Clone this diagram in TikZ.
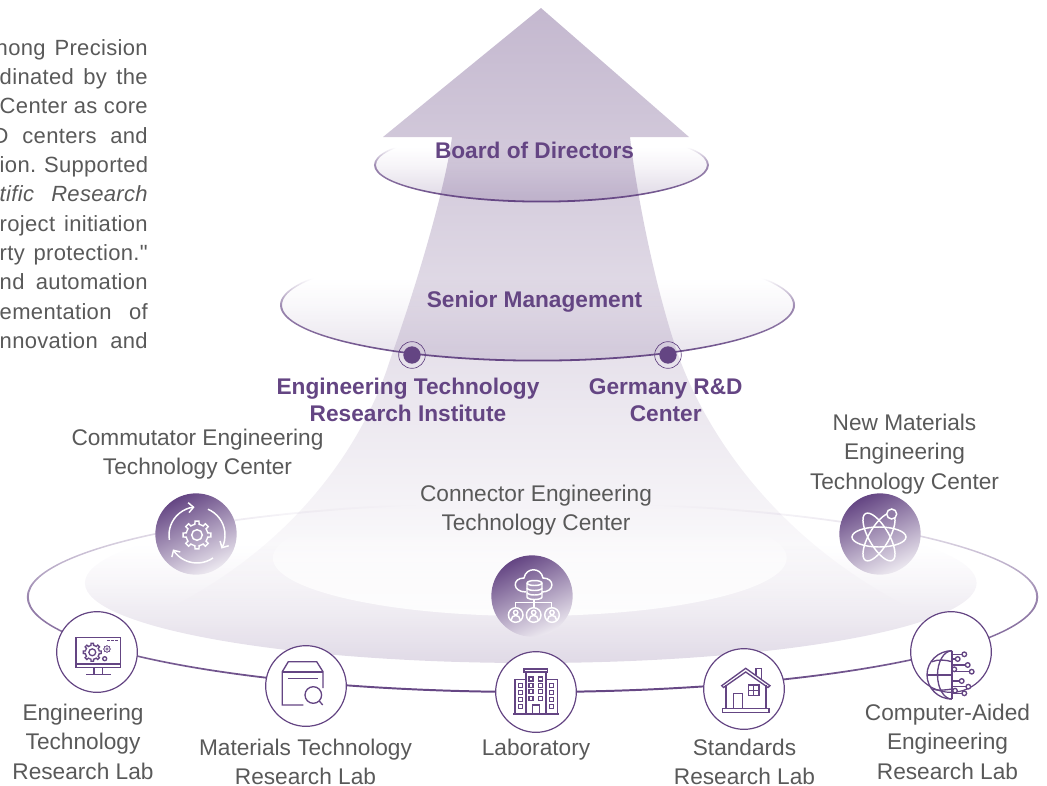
\documentclass[tikz,border=0pt]{standalone}
\usepackage{fontspec}
\setmainfont{Liberation Sans}
\newfontfamily\bodyfont{Liberation Sans}[LetterSpace=1.5]
\usetikzlibrary{arrows.meta,fadings}
\definecolor{mainpurple}{HTML}{644583}
\definecolor{textgrey}{HTML}{595959}
\definecolor{arrowtop}{HTML}{C4B8CF}
\definecolor{arrowmid}{HTML}{D8D0E0}
\pgfdeclareverticalshading{ringshade}{100bp}{color(0bp)=(white);color(25bp)=(white);color(50bp)=(black!40);color(62bp)=(black);color(100bp)=(black)}
\pgfdeclareverticalshading{bigringshade}{100bp}{color(0bp)=(white);color(25bp)=(white);color(50bp)=(black!35);color(74bp)=(black);color(100bp)=(black)}
\pgfdeclareverticalshading{bowlshade}{100bp}{color(0bp)=(white);color(25bp)=(white);color(50bp)=(black!75);color(62bp)=(black);color(100bp)=(black)}
\pgfdeclarefading{ringfade}{\pgfuseshading{ringshade}}
\pgfdeclarefading{bigringfade}{\pgfuseshading{bigringshade}}
\pgfdeclarefading{bowlfade}{\pgfuseshading{bowlshade}}
\tikzset{
  greylabel/.style={align=center,text=textgrey,inner sep=0pt,font=\fontsize{17}{22.1}\selectfont},
  purplelabel/.style={align=center,text=mainpurple,inner sep=0pt,font=\fontsize{17}{20}\selectfont\bfseries},
  bodyline/.style={anchor=east,text=textgrey,inner sep=0pt,text height=12pt,text depth=3.5pt,font=\fontsize{16.5}{20}\bodyfont},
  ring/.style={fill=mainpurple,even odd rule,path fading=ringfade},
  bigring/.style={fill=mainpurple,even odd rule,path fading=bigringfade},
  bowl/.style={fill=mainpurple,path fading=bowlfade,fill opacity=#1},
  darkdisc/.style={circle,minimum size=61pt,inner sep=0pt,shade,shading=axis,top color=mainpurple,bottom color=mainpurple!12,shading angle=25},
  whitedisc/.style={circle,minimum size=60.5pt,inner sep=0pt,draw=mainpurple,fill=white,line width=0.9pt},
  iconw/.style={draw=white,line width=1.1pt},
  iconp/.style={draw=mainpurple,line width=1pt},
}
\newcommand{\gearat}[4]{% x, y, radius, style
  \foreach \a in {0,45,...,315}
    \draw[#4,shift={(#1,#2)}] (\a-22.5:#3*0.78) -- (\a-11:#3*0.78) -- (\a-8:#3) -- (\a+8:#3) -- (\a+11:#3*0.78) -- (\a+22.5:#3*0.78);
  \draw[#4] (#1,#2) circle (#3*0.38);
}
\begin{document}
\begin{tikzpicture}[x=0.75pt,y=-0.75pt]
\useasboundingbox (0,0) rectangle (1047,786);
% arrow
\shade[top color=arrowtop,middle color=arrowmid,bottom color=white] (541,8) -- (689,137) -- (630,137)
  .. controls (636,190) and (655,290) .. (680,360)
  .. controls (710,440) and (780,540) .. (905,605)
  -- (175,605)
  .. controls (300,540) and (365,440) .. (390,360)
  .. controls (415,290) and (445,190) .. (452,137)
  -- (383,137) -- cycle;
% base
\fill[bowl=0.2] (531,583) ellipse (446 and 80);
\fill[white,path fading=ringfade,fill opacity=0.95] (530,558) ellipse (257 and 58);
\fill[bowl=0.22] (541.5,165) ellipse (167 and 37);
\fill[bowl=0.16] (537.5,305) ellipse (257 and 56);
\fill[ring] (541.5,165) ellipse (167.5 and 37.5) (541.5,165) ellipse (165.5 and 35.7);
\fill[ring] (537.5,305) ellipse (257.5 and 56.5) (537.5,305) ellipse (255.5 and 54.7);
\fill[bigring] (534,597) ellipse (506.5 and 96) (534,597) ellipse (504.5 and 94);
% two dots on the second level
\foreach \x/\n in {412/engdot,668/gerdot}{
  \node[circle,fill=mainpurple,minimum size=13pt,inner sep=0pt] (\n) at (\x,355) {};
  \node[circle,draw=mainpurple,line width=0.5pt,fill=none,minimum size=20pt,inner sep=0pt] (\n ring) at (\x,355) {};
}
% discs
\node[darkdisc] (commdisc) at (196,534) {};
\node[darkdisc] (conndisc) at (532,596) {};
\node[darkdisc] (matdisc) at (880,534) {};
\node[whitedisc] (englab) at (97,652) {};
\node[whitedisc] (matlab) at (306,686) {};
\node[whitedisc] (lab) at (536,692) {};
\node[whitedisc] (stdlab) at (744,689) {};
\node[whitedisc] (caelab) at (951,652) {};
% commutator icon
\gearat{197}{535}{14}{iconw}
\draw[iconw,-{Straight Barb}] (197,535) ++(170:28) arc (170:265:28);
\draw[iconw,-{Straight Barb}] (197,535) ++(-67:28) arc (-67:29:28);
\draw[iconw,-{Straight Barb}] (197,535) ++(55:28) arc (55:149:28);
% connector icon
\draw[iconw] (526,592) .. controls (512,592) and (512,578) .. (524,578) .. controls (526,567) and (541,567) .. (543,578) .. controls (555,578) and (555,592) .. (542,592);
\draw[iconw,fill=mainpurple!55] (527,583) -- (527,597) arc (180:0:7.5 and 2.5) -- (542,583) arc (0:-180:7.5 and 2.5);
\draw[iconw] (527,583) arc (180:0:7.5 and 2.5);
\draw[iconw] (527,588) arc (180:0:7.5 and 2.5) (527,592.5) arc (180:0:7.5 and 2.5);
\draw[iconw] (534,600) -- (534,607) (515.7,608) -- (515.7,602.7) -- (551.7,602.7) -- (551.7,608);
\foreach \x in {515.7,533.7,552}{
  \draw[iconw] (\x,615) circle (7.3) (\x,612.5) circle (2.2);
  \draw[iconw] (\x-4.5,620) .. controls (\x-4.5,614) and (\x+4.5,614) .. (\x+4.5,620);
}
% new materials icon
\foreach \r in {0,60,120}
  \draw[iconw,rotate around={\r:(879,537)}] (879,537) ellipse (27 and 10);
\draw[iconw,fill=mainpurple!70] (891.7,514) circle (5);
% monitor icon
\draw[iconp] (76,637.3) rectangle (120.7,667.3) (76,664) -- (120.7,664);
\draw[iconp] (94,667.3) -- (94,674) (102.7,667.3) -- (102.7,674) (86,674.5) -- (110.7,674.5);
\draw[iconp,dash pattern=on 2pt off 1pt] (107,640.7) -- (118,640.7);
\gearat{92.3}{652.3}{9}{iconp}
\gearat{107}{649}{3.5}{draw=mainpurple,line width=0.4pt}
\draw[iconp] (104.7,658.7) circle (2);
% box icon
\draw[iconp] (303.3,705) -- (282.3,705) -- (282.3,671.7) -- (288.3,661.7) -- (316.7,661.7) -- (323,671.7) -- (323,688);
\draw[iconp,line width=1.4pt] (281.7,671.7) -- (323.3,671.7);
\draw[iconp] (288,678.3) -- (318,678.3);
\draw[iconp] (313.3,695) circle (8.3) (319.2,700.9) -- (322.7,705);
% laboratory icon
\draw[iconp] (526,714) -- (526,671.7) -- (546,671.7) -- (546,714);
\draw[iconp] (524,669) rectangle (547.7,672.7);
\draw[iconp] (526,679.3) -- (515,679.3) -- (515,714) (546,679.3) -- (557.3,679.3) -- (557.3,714);
\draw[iconp,line width=1.4pt] (513.3,714) -- (558.7,714);
\draw[iconp] (532.7,714) -- (532.7,705) -- (539.3,705) -- (539.3,714);
\foreach \y in {679,685.7,691.7,698.3}
  \foreach \x in {531,540.3}
    \draw[iconp] (\x-2,\y-2) rectangle (\x+2,\y+2);
\foreach \y in {685.3,692.3,699.3,706.3}
  \foreach \x in {520.3,551.7}
    \draw[iconp] (\x-2,\y-2) rectangle (\x+2,\y+2);
% house icon
\draw[iconp] (721.7,685.7) -- (745.7,668.3) -- (770,685.7) -- (768,687.5) -- (745.7,672) -- (723.5,687.5) -- cycle;
\draw[iconp] (726,685) -- (726,708.3) (766,685) -- (766,708.3);
\draw[iconp] (722.3,708.3) rectangle (769,712.3);
\draw[iconp] (733.3,708.3) -- (733.3,693.3) -- (742.3,693.3) -- (742.3,708.3);
\draw[iconp] (748.3,685) rectangle (759,695.7) (753.6,685) -- (753.6,695.7) (748.3,690.3) -- (759,690.3);
\draw[iconp] (756,675) -- (756,668.3) -- (761.7,668.3) -- (761.7,679);
% globe icon
\draw[iconp] (952,650.7) arc (-90:-270:25 and 24.2);
\draw[iconp] (952,650.7) arc (-90:-270:14.5 and 24.2);
\draw[iconp] (952,650.7) -- (952,699);
\draw[iconp] (932,661.7) .. controls (938,659) and (946,660) .. (952,661.7);
\draw[iconp] (927,675) -- (952,675);
\draw[iconp] (932,689) .. controls (938,691) and (946,690) .. (952,689);
\foreach \x/\y in {964.3/654.3,957.7/659,967.7/665,954.3/669.3,971.7/671.7,961.7/681,968.3/686.7,955/690.7,964.3/693.3}{
  \draw[iconp] (952,\y) -- (\x-2,\y);
  \draw[iconp,fill=white] (\x,\y) circle (2.3);
}
% labels
\node[purplelabel] (board) at (534.5,150) {Board of Directors};
\node[purplelabel] (senior) at (534.5,302) {Senior Management};
\node[purplelabel] (engtech) at (408,400) {Engineering Technology\\Research Institute};
\node[purplelabel] (germany) at (665.7,400) {Germany R\&D\\Center};
\node[greylabel] (commutator) at (197.5,454) {Commutator Engineering\\Technology Center};
\node[greylabel] (connector) at (536,510) {Connector Engineering\\Technology Center};
\node[greylabel] (materials) at (904.5,454) {New Materials\\Engineering\\Technology Center};
\node[greylabel] (englabtext) at (83,741.5) {Engineering\\Technology\\Research Lab};
\node[greylabel] (matlabtext) at (305.5,762) {Materials Technology\\Research Lab};
\node[greylabel] (labtext) at (536,750) {Laboratory};
\node[greylabel] (stdlabtext) at (744.5,762) {Standards\\Research Lab};
\node[greylabel] (caelabtext) at (947.5,741.5) {Computer-Aided\\Engineering\\Research Lab};
% text on the left
\foreach \w/\s [count=\i] in {152/hong Precision,148/dinated by the,148/Center as core,155/D centers and,148/ion. Supported,148/\itshape tific Research,148/roject initiation,148/rty protection.",148/nd automation,148/ementation of,148/nnovation and}
  \node[bodyline] (body\i) at (148,49.7+29.3*\i-29.3) {\makebox[\dimexpr 0.75pt*\w\relax][s]{\s}};
\end{tikzpicture}
\end{document}
